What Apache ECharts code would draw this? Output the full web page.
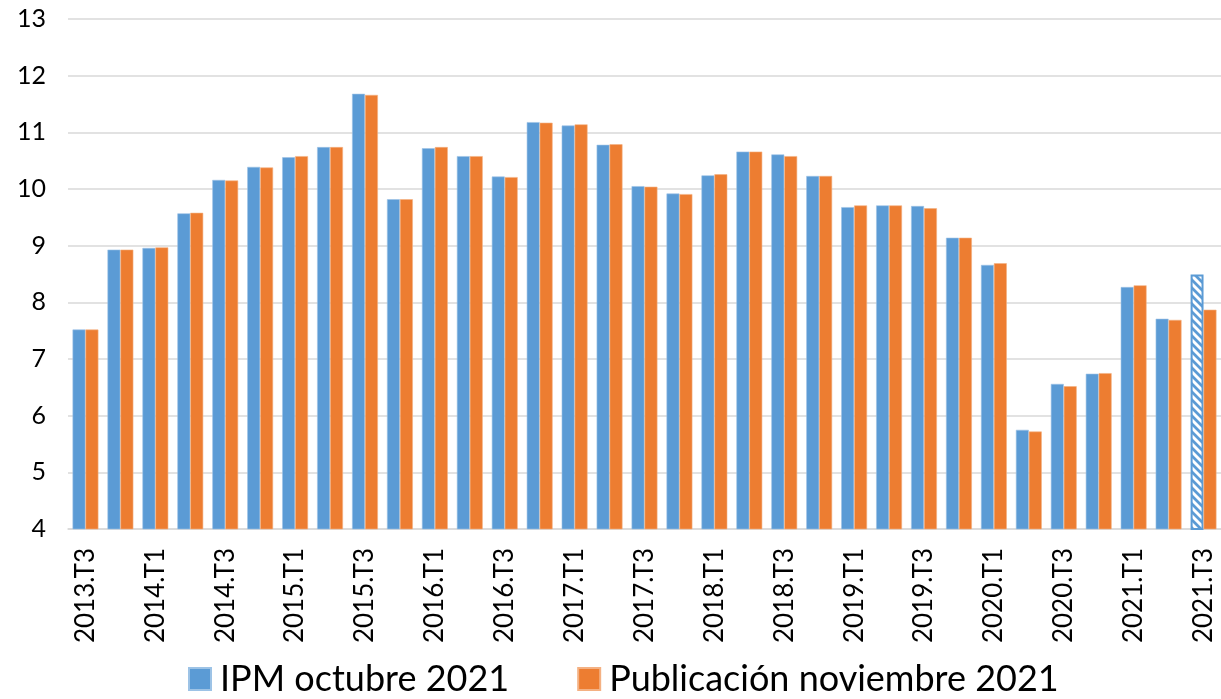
<!DOCTYPE html>
<html>
<head>
<meta charset="utf-8">
<title>IPM</title>
<script src="https://cdn.jsdelivr.net/npm/echarts@6/dist/echarts.min.js"></script>
<style>
  html, body { margin: 0; padding: 0; background: #fff; }
  #chart { width: 1221px; height: 699px; }
</style>
</head>
<body>
<div id="chart"></div>
<script>
// trimestres 2013.T3 .. 2021.T3
var categories = [
  '2013.T3', '2013.T4',
  '2014.T1', '2014.T2', '2014.T3', '2014.T4',
  '2015.T1', '2015.T2', '2015.T3', '2015.T4',
  '2016.T1', '2016.T2', '2016.T3', '2016.T4',
  '2017.T1', '2017.T2', '2017.T3', '2017.T4',
  '2018.T1', '2018.T2', '2018.T3', '2018.T4',
  '2019.T1', '2019.T2', '2019.T3', '2019.T4',
  '2020.T1', '2020.T2', '2020.T3', '2020.T4',
  '2021.T1', '2021.T2', '2021.T3'
];

var ipmOctubre = [
  7.52, 8.93,
  8.96, 9.57, 10.16, 10.39,
  10.56, 10.74, 11.68, 9.82,
  10.72, 10.58, 10.22, 11.18,
  11.12, 10.78, 10.05, 9.92,
  10.24, 10.66, 10.61, 10.23,
  9.68, 9.71, 9.70, 9.14,
  8.66, 5.75, 6.56, 6.74,
  8.27, 7.71, 8.49
];

var publicacionNoviembre = [
  7.52, 8.93,
  8.97, 9.58, 10.15, 10.38,
  10.58, 10.74, 11.66, 9.82,
  10.74, 10.58, 10.21, 11.17,
  11.14, 10.79, 10.04, 9.91,
  10.26, 10.66, 10.58, 10.23,
  9.71, 9.71, 9.66, 9.14,
  8.69, 5.72, 6.52, 6.75,
  8.30, 7.69, 7.87
];

var yTicks = { min: 4, max: 13, interval: 1 };

var BLUE = '#5B9BD5';
var ORANGE = '#ED7D31';
var FONT = 'Lato, "Open Sans", sans-serif';

// trama rayada para la última barra
function hatch() {
  var c = document.createElement('canvas');
  c.width = 8; c.height = 8;
  var ctx = c.getContext('2d');
  ctx.fillStyle = '#fff';
  ctx.fillRect(0, 0, 8, 8);
  ctx.strokeStyle = BLUE;
  ctx.lineWidth = 2.8;
  ctx.beginPath();
  ctx.moveTo(-2, -2); ctx.lineTo(10, 10);
  ctx.moveTo(-6, 2); ctx.lineTo(2, 10);
  ctx.moveTo(6, -2); ctx.lineTo(14, 6);
  ctx.stroke();
  return c;
}

var blueData = ipmOctubre.map(function (v, i) {
  if (i === ipmOctubre.length - 1) {
    return {
      value: v,
      itemStyle: {
        color: { image: hatch(), repeat: 'repeat' },
        borderColor: BLUE,
        borderWidth: 2
      }
    };
  }
  return v;
});

var chart = echarts.init(document.getElementById('chart'));
chart.setOption({
  animation: false,
  textStyle: { fontFamily: FONT },
  grid: { left: 68, right: 0, top: 19, bottom: 170, containLabel: false },
  legend: {
    left: 188,
    top: 661,
    padding: 0,
    itemWidth: 22,
    itemHeight: 22,
    itemGap: 68,
    icon: 'rect',
    textStyle: {
      fontSize: 36,
      lineHeight: 36,
      color: '#000',
      fontFamily: FONT,
      padding: [0, 0, 0, 4]
    },
    data: ['IPM octubre 2021', 'Publicación noviembre 2021']
  },
  xAxis: {
    type: 'category',
    data: categories,
    axisTick: { show: false },
    axisLine: { lineStyle: { color: '#d9d9d9', width: 1.5 } },
    axisLabel: {
      interval: 1,
      rotate: 90,
      margin: 19,
      fontSize: 26,
      color: '#000',
      fontFamily: FONT
    }
  },
  yAxis: {
    type: 'value',
    min: yTicks.min,
    max: yTicks.max,
    interval: yTicks.interval,
    axisLine: { show: false },
    axisTick: { show: false },
    axisLabel: { fontSize: 25, color: '#000', margin: 22, fontFamily: FONT },
    splitLine: { lineStyle: { color: '#d9d9d9', width: 1.5 } }
  },
  series: [
    {
      name: 'IPM octubre 2021',
      type: 'bar',
      data: blueData,
      barGap: '0%',
      barCategoryGap: '26%',
      itemStyle: { color: BLUE, borderColor: '#9dc3e6', borderWidth: 0.6 }
    },
    {
      name: 'Publicación noviembre 2021',
      type: 'bar',
      data: publicacionNoviembre,
      itemStyle: { color: ORANGE, borderColor: '#f4b183', borderWidth: 0.6 }
    }
  ]
});
</script>
</body>
</html>
